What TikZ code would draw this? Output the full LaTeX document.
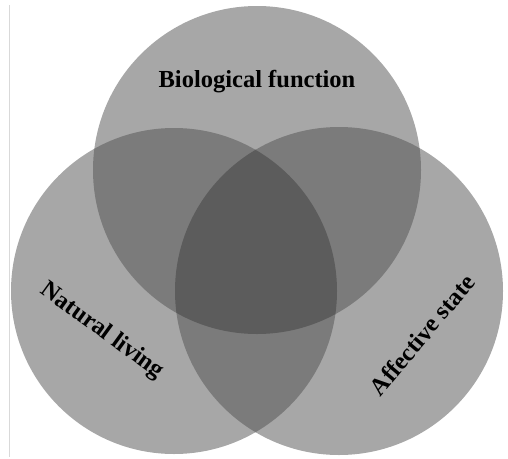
\documentclass[tikz,border=0pt]{standalone}
\usepackage{fontspec}
\setmainfont{Liberation Serif}
\definecolor{onegray}{HTML}{A7A7A7}
\definecolor{twogray}{HTML}{7B7B7B}
\definecolor{threegray}{HTML}{5C5C5C}
\begin{document}
\begin{tikzpicture}[x=1pt,y=-1pt,
  label/.style={font=\fontsize{24.5}{24.5}\selectfont\bfseries,inner sep=0pt}]
\useasboundingbox (0,0) rectangle (508,458);
\draw[color=black!15,line width=1pt](9,5) -- (9,457);
% the three sets
\path (257,170) coordinate (bio);
\path (174,291) coordinate (nat);
\path (339,291) coordinate (aff);
\fill[onegray] (bio) circle (164);
\fill[onegray] (nat) circle (163);
\fill[onegray] (aff) circle (164);
% two at a time
\begin{scope}
\clip (bio) circle (164);
\fill[twogray] (nat) circle (163);
\fill[twogray] (aff) circle (164);
\end{scope}
\begin{scope}
\clip (nat) circle (163);
\fill[twogray] (aff) circle (164);
\end{scope}
% all three
\begin{scope}
\clip (bio) circle (164);
\clip (nat) circle (163);
\fill[threegray] (aff) circle (164);
\end{scope}
\draw(257,82) node[label] (biolabel) {Biological function};
\draw(102,331) node[label,rotate=-36] (natlabel) {Natural living};
\draw(422,335) node[label,rotate=50] (afflabel) {Affective state};
\end{tikzpicture}
\end{document}
